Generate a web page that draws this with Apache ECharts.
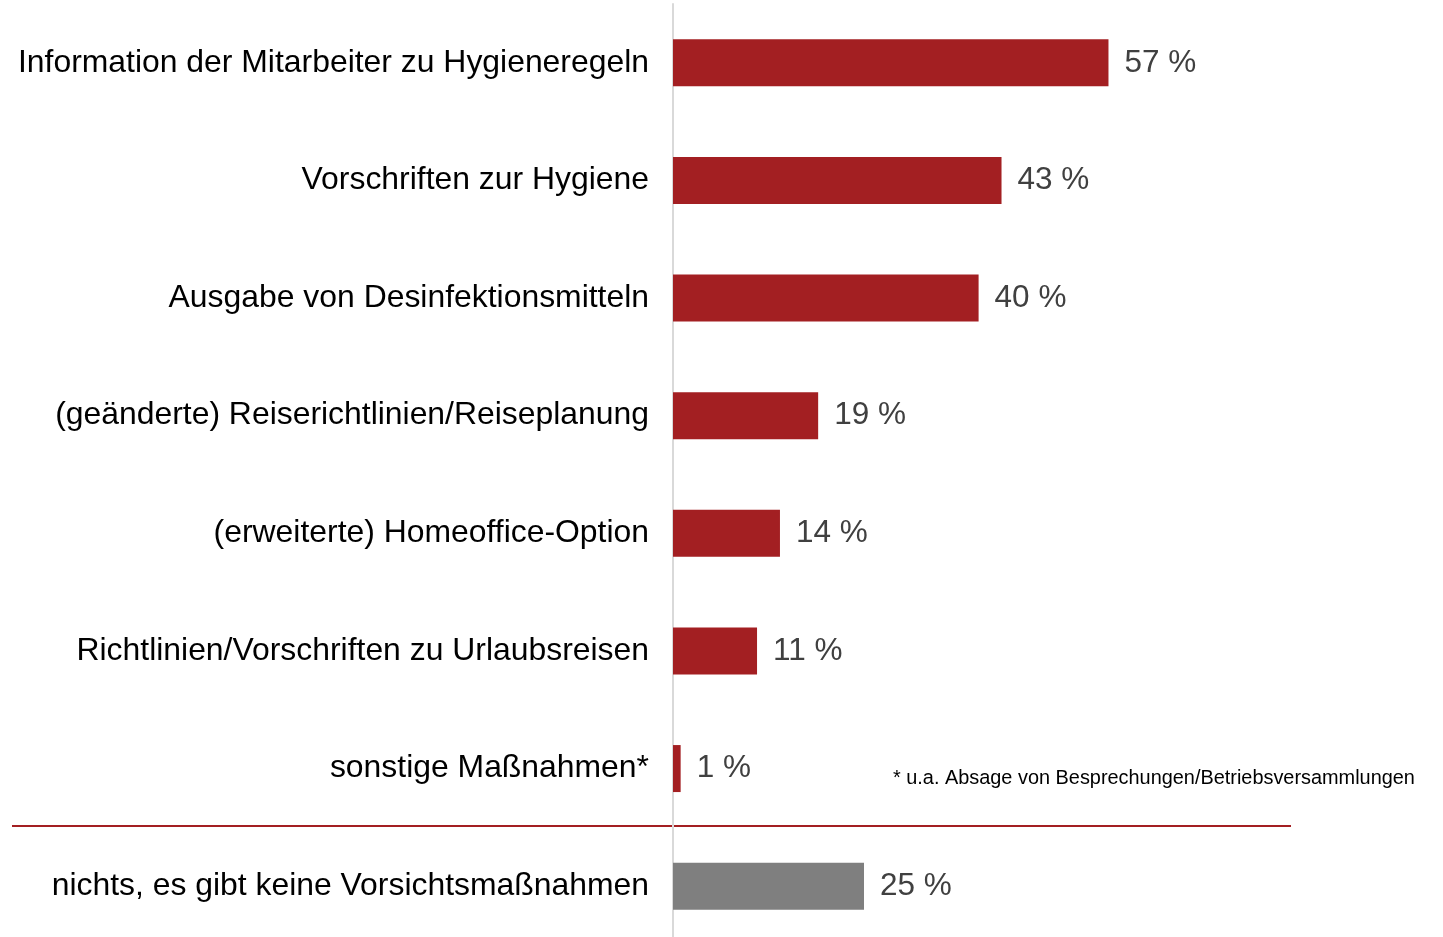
<!DOCTYPE html>
<html>
<head>
<meta charset="utf-8">
<script src="https://cdn.jsdelivr.net/npm/echarts@6/dist/echarts.min.js"></script>
<style>
  html, body { margin: 0; padding: 0; background: #fff; overflow: hidden; }
  #chart { width: 1443px; height: 945px; }
</style>
</head>
<body>
<div id="chart"></div>
<script>
const categories = [
  "Information der Mitarbeiter zu Hygieneregeln",
  "Vorschriften zur Hygiene",
  "Ausgabe von Desinfektionsmitteln",
  "(geänderte) Reiserichtlinien/Reiseplanung",
  "(erweiterte) Homeoffice-Option",
  "Richtlinien/Vorschriften zu Urlaubsreisen",
  "sonstige Maßnahmen*",
  "nichts, es gibt keine Vorsichtsmaßnahmen"
];
const values = [57, 43, 40, 19, 14, 11, 1, 25];
const barColors = ["#a31f22", "#a31f22", "#a31f22", "#a31f22", "#a31f22", "#a31f22", "#a31f22", "#7f7f7f"];
const footnote = "* u.a. Absage von Besprechungen/Betriebsversammlungen";

const chart = echarts.init(document.getElementById("chart"), null, { renderer: "canvas" });

chart.setOption({
  animation: false,
  backgroundColor: "#ffffff",
  grid: {
    left: 673,
    right: 6,
    top: 4,
    bottom: 0
  },
  xAxis: {
    type: "value",
    min: 0,
    max: 100,
    show: false
  },
  yAxis: {
    type: "category",
    inverse: true,
    data: categories,
    axisLine: { show: true, lineStyle: { color: "#d9d9d9", width: 2 } },
    axisTick: { show: false },
    axisLabel: {
      margin: 24,
      color: "#000000",
      fontFamily: "Liberation Sans, Arial, sans-serif",
      fontSize: 31.9,
      padding: [4, 0, 0, 0]
    }
  },
  series: [
    {
      type: "bar",
      barWidth: 47,
      data: values.map((v, i) => ({ value: v, itemStyle: { color: barColors[i] } })),
      label: {
        show: true,
        position: "right",
        distance: 16,
        formatter: p => p.value + " %",
        color: "#404040",
        fontFamily: "Liberation Sans, Arial, sans-serif",
        fontSize: 31.5,
        padding: [4, 0, 0, 0]
      }
    }
  ],
  graphic: [
    {
      type: "line",
      shape: { x1: 12, y1: 826, x2: 1291, y2: 826 },
      style: { stroke: "#a31f22", lineWidth: 2 }
    },
    {
      type: "text",
      left: 893,
      top: 769,
      style: {
        text: footnote,
        fill: "#000000",
        font: "19.9px Liberation Sans, Arial, sans-serif"
      }
    }
  ]
});
</script>
</body>
</html>
